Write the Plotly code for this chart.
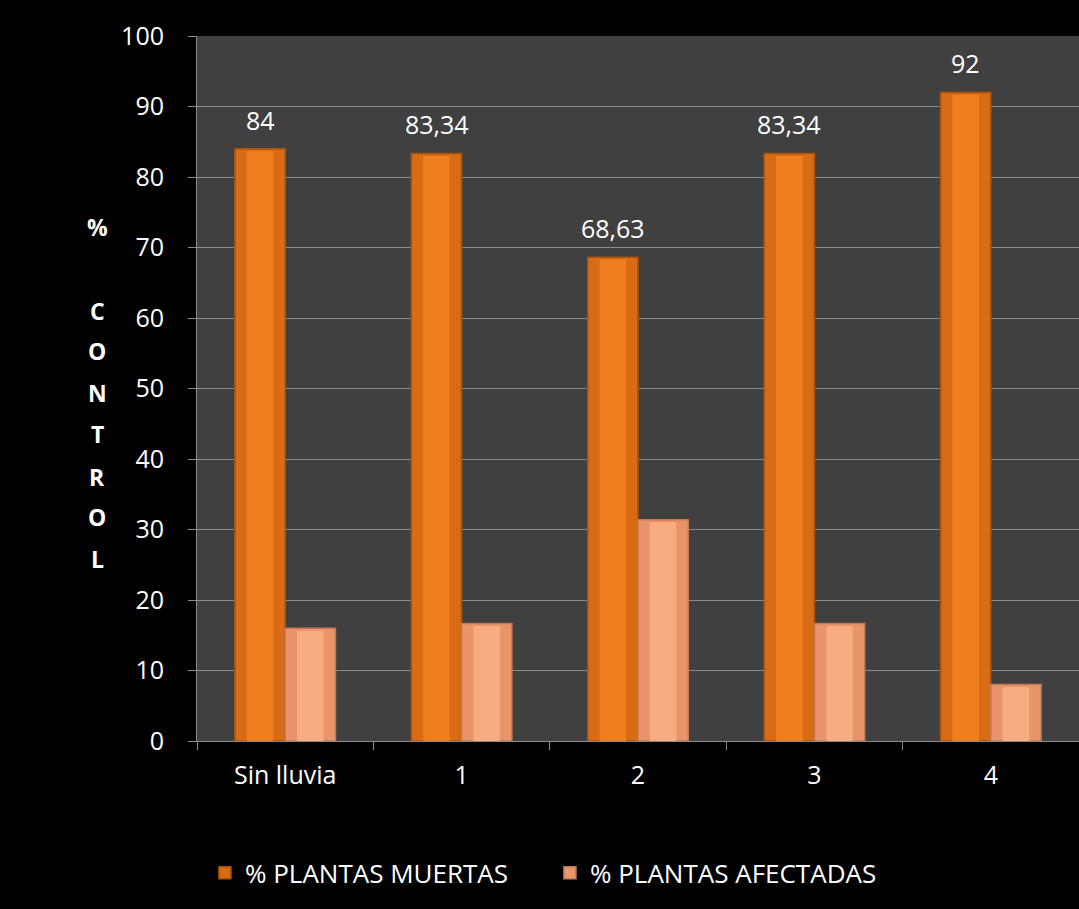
import plotly.graph_objects as go

categories = ["Sin lluvia", "1", "2", "3", "4"]
muertas = [84, 83.34, 68.63, 83.34, 92]
afectadas = [16, 16.66, 31.37, 16.66, 8]
muertas_labels = ["84", "83,34", "68,63", "83,34", "92"]
y_ticks = [0, 10, 20, 30, 40, 50, 60, 70, 80, 90, 100]
title_letters = ["%", "C", "O", "N", "T", "R", "O", "L"]
title_pos = [0.729, 0.610, 0.553, 0.494, 0.436, 0.375, 0.318, 0.258]

FONT = "Open Sans, Liberation Sans, sans-serif"
FS = 25
BW = 0.285      # bar width in category units
IW = 0.15       # inner highlight width

fig = go.Figure()
fig.add_trace(go.Bar(
    name="% PLANTAS MUERTAS", x=categories, y=muertas, width=BW, offset=-BW,
    marker=dict(color="#D96B14", line=dict(color="#A9520C", width=1.5)),
))
fig.add_trace(go.Bar(
    name="% PLANTAS AFECTADAS", x=categories, y=afectadas, width=BW, offset=0,
    marker=dict(color="#E99469", line=dict(color="#C07C58", width=1.5)),
))
# inner lighter stripes to mimic the cylindrical shading
fig.add_trace(go.Bar(
    x=categories, y=[v - 0.35 for v in muertas], width=IW, offset=-BW + (BW - IW) / 2,
    marker=dict(color="#F0801F", line=dict(width=0)), showlegend=False, hoverinfo="skip",
))
fig.add_trace(go.Bar(
    x=categories, y=[v - 0.35 for v in afectadas], width=IW, offset=(BW - IW) / 2,
    marker=dict(color="#F7AC82", line=dict(width=0)), showlegend=False, hoverinfo="skip",
))

annotations = []
for c, v, t in zip(categories, muertas, muertas_labels):
    annotations.append(dict(
        x=c, y=v, xref="x", yref="y", text=t, showarrow=False,
        xshift=-25, yshift=29, xanchor="center", yanchor="middle",
        font=dict(size=FS, color="white", family=FONT),
    ))
for letter, p in zip(title_letters, title_pos):
    annotations.append(dict(
        text="<b>" + letter + "</b>", xref="paper", yref="paper",
        x=-0.113, y=p, xanchor="center", yanchor="middle", showarrow=False,
        font=dict(size=23, color="white", family=FONT),
    ))

fig.update_layout(
    width=1079, height=909,
    paper_bgcolor="black", plot_bgcolor="#404040",
    margin=dict(l=197, r=0, t=36, b=168),
    barmode="overlay",
    font=dict(family=FONT, color="white", size=FS),
    showlegend=True,
    legend=dict(orientation="h", x=0.009, xanchor="left", y=-0.187, yanchor="middle",
                font=dict(size=26, color="white"), traceorder="normal",
                entrywidth=300, entrywidthmode="pixels"),
    xaxis=dict(showline=True, linecolor="#8c8c8c", linewidth=1,
               ticks="outside", tickson="boundaries", ticklen=8, tickcolor="#8c8c8c",
               ticklabelstandoff=12,
               tickfont=dict(size=FS, color="white"), showgrid=False),
    yaxis=dict(range=[0, 100], tickvals=y_ticks, showline=True, linecolor="#8c8c8c",
               linewidth=1, ticks="outside", ticklen=8, tickcolor="#8c8c8c",
               ticklabelstandoff=19,
               gridcolor="#8c8c8c", gridwidth=1, zeroline=False,
               tickfont=dict(size=FS, color="white")),
    annotations=annotations,
)

fig.write_html("out.html")
